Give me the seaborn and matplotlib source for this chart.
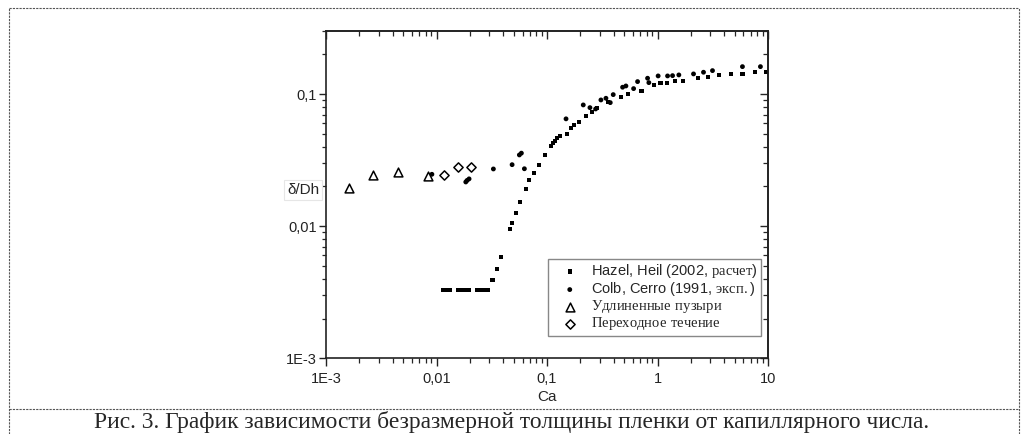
import matplotlib
matplotlib.use("Agg")
import pandas as pd
import matplotlib.pyplot as plt
import matplotlib.ticker as mticker
from matplotlib.lines import Line2D
import seaborn as sns

# Hazel, Heil (2002, расчет)
hazel_ca = [0.01148, 0.01235, 0.01329, 0.0157, 0.01687, 0.01815, 0.01952,
            0.0233, 0.02506, 0.02696, 0.029, 0.0321, 0.0353, 0.0386, 0.0463,
            0.0486, 0.0521, 0.057, 0.0641, 0.0687, 0.0758, 0.0841, 0.096,
            0.1087, 0.1133, 0.1181, 0.1239, 0.1311, 0.1527, 0.1637, 0.1765,
            0.1958, 0.2252, 0.2566, 0.2813, 0.3536, 0.4634, 0.5429, 0.7174,
            0.9326, 1.066, 1.223, 1.435, 1.705, 2.33, 2.87, 3.585, 4.603,
            5.871, 7.63, 9.67]
hazel_d = [0.0033, 0.0033, 0.0033, 0.0033, 0.0033, 0.0033, 0.0033,
           0.0033, 0.0033, 0.0033, 0.0033, 0.00394, 0.00476, 0.00585, 0.00958,
           0.01063, 0.01253, 0.01517, 0.01924, 0.0222, 0.0251, 0.0292, 0.0344,
           0.0405, 0.0425, 0.0442, 0.0463, 0.0481, 0.0501, 0.0551, 0.0583,
           0.0612, 0.0686, 0.0736, 0.0789, 0.0876, 0.0955, 0.0997, 0.1056,
           0.1172, 0.1207, 0.1207, 0.1257, 0.1263, 0.1317, 0.1354, 0.1395, 0.1412,
           0.142, 0.1462, 0.1478]

# Colb, Cerro (1991, эксп.)
colb_ca = [0.00908, 0.0184, 0.0189, 0.0197, 0.0327, 0.0483, 0.0562, 0.0586,
           0.0624, 0.1486, 0.2128, 0.2446, 0.2754, 0.3075, 0.3414, 0.3736,
           0.3974, 0.4831, 0.5176, 0.6076, 0.66, 0.8129, 0.835, 1.013, 1.233,
           1.368, 1.56, 2.118, 2.608, 3.145, 5.871, 8.54]
colb_d = [0.0247, 0.0216, 0.0222, 0.0228, 0.0271, 0.0292, 0.0346, 0.0357,
          0.0272, 0.0649, 0.0827, 0.0789, 0.0771, 0.0902, 0.0929, 0.0861,
          0.099, 0.1126, 0.1151, 0.1099, 0.1242, 0.1317, 0.122, 0.1371, 0.1371,
          0.1378, 0.1395, 0.142, 0.1462, 0.1504, 0.1612, 0.1612]

# Удлиненные пузыри
bubble_ca = [0.00163, 0.00264, 0.00448, 0.00836]
bubble_d = [0.0195, 0.0244, 0.0256, 0.0241]

# Переходное течение
trans_ca = [0.01173, 0.0156, 0.0204]
trans_d = [0.0244, 0.0281, 0.0282]

# serif-части подписей через mathtext (rm = Liberation Serif)
labels = [
    r"Hazel, Heil (2002, $\mathrm{расчет}$)",
    r"Colb, Cerro (1991, $\mathrm{эксп.}$)",
    r"$\mathrm{Удлиненные\ пузыри}$",
    r"$\mathrm{Переходное\ течение}$",
]
tick_names = {1e-3: "1E-3", 1e-2: "0,01", 1e-1: "0,1", 1.0: "1", 10.0: "10"}

sns.set_style("ticks")
plt.rcParams["font.family"] = ["Liberation Sans", "DejaVu Sans"]
plt.rcParams["mathtext.fontset"] = "custom"
plt.rcParams["mathtext.rm"] = "Liberation Serif"

fig = plt.figure(figsize=(10.24, 4.34), dpi=100)
ax = fig.add_axes([0.3184, 0.1744, 0.4316, 0.7542])

hazel = pd.DataFrame({"Ca": hazel_ca, "d": hazel_d})
colb = pd.DataFrame({"Ca": colb_ca, "d": colb_d})
bubble = pd.DataFrame({"Ca": bubble_ca, "d": bubble_d})
trans = pd.DataFrame({"Ca": trans_ca, "d": trans_d})

sns.scatterplot(data=hazel, x="Ca", y="d", marker="s", s=9, color="black",
                edgecolor="none", ax=ax, label=labels[0])
sns.scatterplot(data=colb, x="Ca", y="d", marker="o", s=12, color="black",
                edgecolor="none", ax=ax, label=labels[1])
sns.scatterplot(data=bubble, x="Ca", y="d", marker="^", s=40, facecolor="white",
                edgecolor="black", linewidth=1.1, ax=ax, label=labels[2])
sns.scatterplot(data=trans, x="Ca", y="d", marker="D", s=22, facecolor="white",
                edgecolor="black", linewidth=1.1, ax=ax, label=labels[3])

ax.set_xscale("log")
ax.set_yscale("log")
ax.set_xlim(1e-3, 10)
ax.set_ylim(1e-3, 0.3)

fmt = mticker.FuncFormatter(lambda v, p: tick_names.get(round(v, 6), ""))
for axis in (ax.xaxis, ax.yaxis):
    axis.set_major_locator(mticker.LogLocator(base=10))
    axis.set_minor_locator(mticker.LogLocator(base=10, subs=range(2, 10)))
    axis.set_major_formatter(fmt)
    axis.set_minor_formatter(mticker.NullFormatter())

ax.tick_params(axis="x", which="major", direction="out", length=6, width=1,
               pad=4, labelsize=10.5, colors="#222222")
ax.tick_params(axis="x", which="minor", direction="out", length=3.5, width=0.9)
ax.tick_params(axis="y", which="major", direction="out", length=5, width=1,
               pad=1.5, labelsize=10.5, colors="#222222")
ax.tick_params(axis="y", which="minor", direction="out", length=3, width=0.9)

# верхняя и правая оси - риски внутрь
top = ax.secondary_xaxis("top")
right = ax.secondary_yaxis("right")
for sec, axis in ((top, top.xaxis), (right, right.yaxis)):
    axis.set_major_locator(mticker.LogLocator(base=10))
    axis.set_minor_locator(mticker.LogLocator(base=10, subs=range(2, 10)))
    axis.set_major_formatter(mticker.NullFormatter())
    axis.set_minor_formatter(mticker.NullFormatter())
    sec.tick_params(which="major", direction="in", length=6, width=1)
    sec.tick_params(which="minor", direction="in", length=3.5, width=0.9)
    for sp in sec.spines.values():
        sp.set_linewidth(1.2)
        sp.set_color("#222222")

for sp in ax.spines.values():
    sp.set_visible(True)
    sp.set_linewidth(1.2)
    sp.set_color("#222222")

ax.set_xlabel("Ca", fontsize=11, labelpad=3)
ax.set_ylabel("δ/Dh", fontsize=11, rotation=0, ha="center", va="center",
              bbox=dict(facecolor="white", edgecolor="#e6e6e6", pad=2, lw=0.8))
ax.yaxis.set_label_coords(-0.052, 0.514)

leg = ax.legend(loc="lower right", bbox_to_anchor=(0.985, 0.068),
                borderaxespad=0, fontsize=10.5, frameon=True, fancybox=False,
                edgecolor="#888888", framealpha=1, borderpad=0.25,
                handlelength=2.5, handletextpad=0.2, labelspacing=0.0)
leg.get_frame().set_linewidth(1.0)

# рамка страницы и подпись
dash = dict(color="#555555", lw=0.8, linestyle=(0, (2, 1)),
            transform=fig.transFigure)
fig.add_artist(Line2D([9 / 1024, 9 / 1024], [0, 1 - 8 / 434], **dash))
fig.add_artist(Line2D([1019 / 1024, 1019 / 1024], [0, 1 - 8 / 434], **dash))
fig.add_artist(Line2D([9 / 1024, 1019 / 1024], [1 - 8 / 434, 1 - 8 / 434], **dash))
fig.add_artist(Line2D([9 / 1024, 1019 / 1024], [1 - 409 / 434, 1 - 409 / 434], **dash))
fig.text(0.5, 1 - 428 / 434,
         "Рис. 3. График зависимости безразмерной толщины пленки от капиллярного числа.",
         ha="center", va="baseline", fontsize=16.9, family="Liberation Serif")

fig.savefig("out.png", dpi=100)
